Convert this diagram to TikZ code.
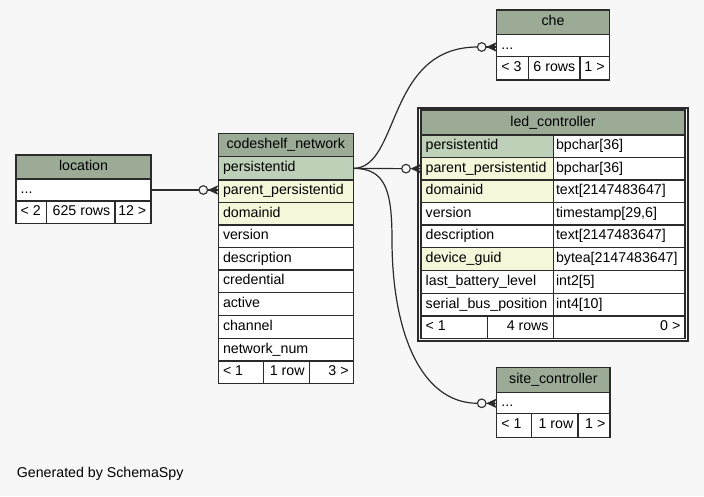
\documentclass[tikz,border=0pt]{standalone}
\usepackage{fontspec}
\setmainfont{Liberation Sans}
\usetikzlibrary{calc}

\definecolor{bgc}{HTML}{F7F7F7}
\definecolor{headc}{HTML}{9BAB96}
\definecolor{pkc}{HTML}{BED1B8}
\definecolor{idxc}{HTML}{F4F7DA}
\definecolor{linec}{HTML}{2B2B2B}

% a table cell: name, x1, y1, x2, y2, fill
\newcommand\cellbg[6]{%
  \pgfmathsetmacro\tcW{#4-#2}\pgfmathsetmacro\tcH{#5-#3}%
  \node[cellbox,fill=#6,minimum width=\tcW pt,minimum height=\tcH pt] (#1) at ({(#2+#4)/2},{(#3+#5)/2}) {};}
% cells with left / right / centred / type-column text
\newcommand\cellL[7]{\cellbg{#1}{#2}{#3}{#4}{#5}{#6}%
  \node[celltext,anchor=base west] (#1-t) at ([xshift=4.5pt,yshift=-3.5pt]#1.west) {#7};}
\newcommand\cellR[7]{\cellbg{#1}{#2}{#3}{#4}{#5}{#6}%
  \node[celltext,anchor=base east] (#1-t) at ([xshift=-4.5pt,yshift=-3.5pt]#1.east) {#7};}
\newcommand\cellC[7]{\cellbg{#1}{#2}{#3}{#4}{#5}{#6}%
  \node[celltext,anchor=base] (#1-t) at ([yshift=-3.5pt]#1.center) {#7};}
\newcommand\cellT[7]{\cellbg{#1}{#2}{#3}{#4}{#5}{#6}%
  \node[celltext,anchor=base west] (#1-t) at ([xshift=2.5pt,yshift=-3.5pt]#1.west) {#7};}

\tikzset{
  cellbox/.style={draw=linec,line width=1.2pt,inner sep=0pt,outer sep=0pt},
  celltext/.style={inner sep=0pt,font=\fontsize{14.2}{17}\selectfont,text=black},
  conn/.style={draw=linec,line width=1.2pt},
  crowodot/.pic={
    \fill[linec] (-10.5,0) -- (0,-4.8) -- (-2.5,0) -- (0,4.8) -- cycle;
    \draw[linec,line width=1.1pt] (-10.5,0) -- (0,0);
    \draw[linec,line width=1.1pt,fill=bgc] (-15,0) circle (4.3);
  }
}

\begin{document}
\begin{tikzpicture}[x=1pt,y=-1pt]
\useasboundingbox (0,0) rectangle (704,496);
\fill[bgc] (0,0) rectangle (704,496);

% ---- location
\cellC{loc-h}{16}{155}{151}{179}{headc}{location}
\cellL{loc-r}{16}{179}{151}{201}{white}{...}
\cellL{loc-f1}{16}{201}{46.7}{223.5}{white}{< 2}
\cellR{loc-f2}{46.7}{201}{115}{223.5}{white}{625 rows}
\cellR{loc-f3}{115}{201}{151}{223.5}{white}{12 >}

% ---- codeshelf_network
\cellC{cs-h}{218.3}{133.3}{353.3}{156.7}{headc}{codeshelf\_network}
\cellL{cs-pk}{218.3}{156.7}{353.3}{180}{pkc}{persistentid}
\cellL{cs-pp}{218.3}{180}{353.3}{202.7}{idxc}{parent\_persistentid}
\cellL{cs-dom}{218.3}{202.7}{353.3}{225}{idxc}{domainid}
\cellL{cs-ver}{218.3}{225}{353.3}{247.7}{white}{version}
\cellL{cs-desc}{218.3}{247.7}{353.3}{270}{white}{description}
\cellL{cs-cred}{218.3}{270}{353.3}{292.7}{white}{credential}
\cellL{cs-act}{218.3}{292.7}{353.3}{315.7}{white}{active}
\cellL{cs-chan}{218.3}{315.7}{353.3}{338.3}{white}{channel}
\cellL{cs-num}{218.3}{338.3}{353.3}{361}{white}{network\_num}
\cellL{cs-f1}{218.3}{361}{263.3}{383.7}{white}{< 1}
\cellR{cs-f2}{263.3}{361}{309.3}{383.7}{white}{1 row}
\cellR{cs-f3}{309.3}{361}{353.3}{383.7}{white}{3 >}

% ---- led_controller
\node[draw=linec,line width=2pt,minimum width=269.4pt,minimum height=233pt,inner sep=0pt] (led-frame) at (552.9,224.1) {};
\cellC{led-h}{421}{110}{685}{135}{headc}{led\_controller}
\cellL{led-pk}{421}{135}{553.3}{157.3}{pkc}{persistentid}
\cellT{led-pk-ty}{553.3}{135}{685}{157.3}{white}{bpchar[36]}
\cellL{led-pp}{421}{157.3}{553.3}{180}{idxc}{parent\_persistentid}
\cellT{led-pp-ty}{553.3}{157.3}{685}{180}{white}{bpchar[36]}
\cellL{led-dom}{421}{180}{553.3}{202.7}{idxc}{domainid}
\cellT{led-dom-ty}{553.3}{180}{685}{202.7}{white}{text[2147483647]}
\cellL{led-ver}{421}{202.7}{553.3}{225}{white}{version}
\cellT{led-ver-ty}{553.3}{202.7}{685}{225}{white}{timestamp[29,6]}
\cellL{led-desc}{421}{225}{553.3}{247.7}{white}{description}
\cellT{led-desc-ty}{553.3}{225}{685}{247.7}{white}{text[2147483647]}
\cellL{led-guid}{421}{247.7}{553.3}{270.7}{idxc}{device\_guid}
\cellT{led-guid-ty}{553.3}{247.7}{685}{270.7}{white}{bytea[2147483647]}
\cellL{led-bat}{421}{270.7}{553.3}{293.3}{white}{last\_battery\_level}
\cellT{led-bat-ty}{553.3}{270.7}{685}{293.3}{white}{int2[5]}
\cellL{led-bus}{421}{293.3}{553.3}{316}{white}{serial\_bus\_position}
\cellT{led-bus-ty}{553.3}{293.3}{685}{316}{white}{int4[10]}
\cellL{led-f1}{421}{316}{487.7}{338.7}{white}{< 1}
\cellR{led-f2}{487.7}{316}{553.3}{338.7}{white}{4 rows}
\cellR{led-f3}{553.3}{316}{685}{338.7}{white}{0 >}

% ---- che
\cellC{che-h}{496.7}{10}{609.3}{34.3}{headc}{che}
\cellL{che-r}{496.7}{34.3}{609.3}{56.7}{white}{...}
\cellL{che-f1}{496.7}{56.7}{528.3}{80}{white}{< 3}
\cellR{che-f2}{528.3}{56.7}{580}{80}{white}{6 rows}
\cellR{che-f3}{580}{56.7}{609.3}{80}{white}{1 >}

% ---- site_controller
\cellC{sc-h}{496.7}{367.3}{610}{392.3}{headc}{site\_controller}
\cellL{sc-r}{496.7}{392.3}{610}{413.3}{white}{...}
\cellL{sc-f1}{496.7}{413.3}{531.7}{437.3}{white}{< 1}
\cellR{sc-f2}{531.7}{413.3}{578}{437.3}{white}{1 row}
\cellR{sc-f3}{578}{413.3}{610}{437.3}{white}{1 >}

% ---- relationships
\coordinate (e-loc) at (cs-pp.west |- loc-r.east);
\coordinate (e-led) at (led-pp.west);
\coordinate (e-che) at ([yshift=-1.5pt]che-r.west);
\coordinate (e-sc)  at ([yshift=-0.5pt]sc-r.west);

\draw[conn] (loc-r.east) -- ([xshift=-19pt]e-loc);
\draw[conn] (cs-pk.east) -- ([xshift=-19pt]e-led);
\draw[conn] (cs-pk.east) .. controls +(47,0) and +(-92,0) .. ([xshift=-19pt]e-che);
\draw[conn] (cs-pk.east) .. controls +(32,0) and (392,190) .. (392,240)
            .. controls (392,330) and (420,403.3) .. ([xshift=-19pt]e-sc);

\pic at (e-loc) {crowodot};
\pic at (e-led) {crowodot};
\pic at (e-che) {crowodot};
\pic at (e-sc)  {crowodot};

\node[celltext,anchor=base west] (credit) at (16.7,477.5) {Generated by SchemaSpy};
\end{tikzpicture}
\end{document}
